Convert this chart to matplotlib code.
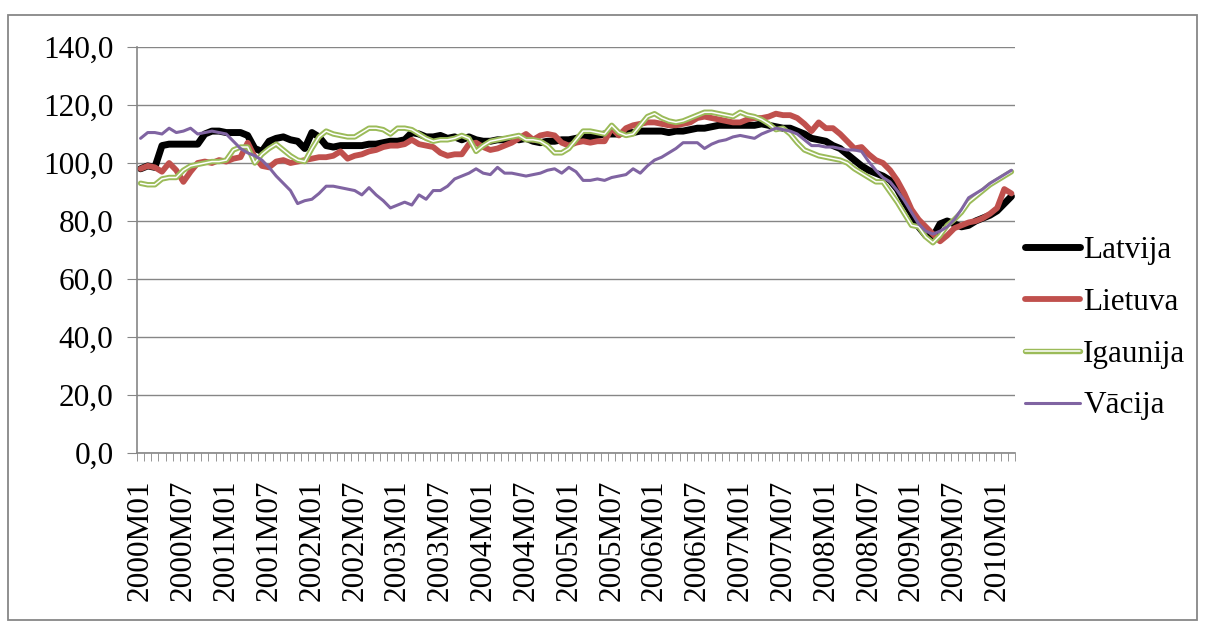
import matplotlib
matplotlib.use("Agg")
import matplotlib.pyplot as plt
import matplotlib.patheffects as pe
from matplotlib.patches import Rectangle
from matplotlib.ticker import FixedLocator, FuncFormatter

plt.rcParams['font.family'] = ['Liberation Serif', 'DejaVu Serif']

# menesi 2000M01 .. 2010M03
months = ["%dM%02d" % (2000 + k // 12, k % 12 + 1) for k in range(123)]

latvija = [98, 99, 98.5, 106, 106.5, 106.5, 106.5, 106.5, 106.5, 110,
           111, 111, 110.5, 110.5, 110.5, 109.5, 105, 104, 107.5, 108.5,
           109, 108, 107.5, 105, 110.5, 109, 106, 105.5, 106, 106,
           106, 106, 106.5, 106.5, 107, 107.5, 107.5, 108, 110.5, 110,
           109, 109, 109.5, 108.5, 109, 108, 109, 108, 107.5, 107.5,
           108, 108, 108.5, 108, 108.5, 107.5, 107, 107.5, 107.5, 108,
           108, 108.5, 109, 109, 109.5, 110, 110, 110, 110.5, 110.5,
           111, 111, 111, 111, 110.5, 111, 111, 111.5, 112, 112,
           112.5, 113, 113, 113, 113, 113, 113, 113.5, 113, 112.5,
           112, 112, 111, 110, 108.5, 108, 107.5, 106, 105, 103,
           101, 99, 97.5, 96.5, 95.5, 94, 91, 86.5, 82.5, 78,
           75, 74.5, 79, 80, 79, 78, 78.5, 80, 81, 82,
           83.5, 86, 88.5]

lietuva = [98, 99, 98.5, 97, 100, 97.5, 93.5, 97, 100, 100.5,
           100, 101, 100.5, 101.5, 102, 107, 102, 99, 98.5, 100.5,
           101, 100, 100.5, 101, 101.5, 102, 102, 102.5, 104, 101.5,
           102.5, 103, 104, 104.5, 105.5, 106, 106, 106.5, 108, 106.5,
           106, 105.5, 103.5, 102.5, 103, 103, 106.5, 107, 105.5, 104.5,
           105, 106, 107, 108.5, 110, 108, 109.5, 110, 109.5, 107,
           106, 107, 107.5, 107, 107.5, 107.5, 112, 109.5, 112, 113,
           113.5, 114, 114, 113.5, 113, 113, 113.5, 114, 115.5, 116,
           115.5, 115, 114.5, 114, 114, 115, 115.5, 115.5, 116, 117,
           116.5, 116.5, 115.5, 113.5, 111, 114, 112, 112, 110, 107.5,
           105, 105.5, 103, 101, 100, 97.5, 94, 89.5, 84, 80.5,
           78, 75.5, 73, 75, 77.5, 78.5, 79.5, 80, 81, 82.5,
           84.5, 91, 89.5]

igaunija = [93, 92.5, 92.5, 94.5, 95, 95, 97.5, 99, 99.5, 100,
            100.5, 100.5, 101, 104.5, 105.5, 105.5, 100, 103, 105, 106.5,
            104.5, 102.5, 101, 100.5, 105, 109, 111, 110, 109.5, 109,
            109, 110.5, 112, 112, 111.5, 110, 112, 112, 111.5, 110,
            108.5, 107.5, 108, 108, 108.5, 109.5, 108.5, 104, 106, 107.5,
            108, 108.5, 109, 109.5, 108, 108, 107.5, 106, 103.5, 103.5,
            105, 108, 111, 111, 110.5, 110, 113, 110.5, 109.5, 110,
            113, 116, 117, 115.5, 114.5, 114, 114.5, 115.5, 116.5, 117.5,
            117.5, 117, 116.5, 116, 117.5, 116.5, 116, 115, 113.5, 111.5,
            112, 110, 107, 104.5, 103.5, 102.5, 102, 101.5, 101, 100,
            98, 96.5, 95, 93.5, 93.5, 90, 86.5, 82.5, 78.5, 78,
            74.5, 72.5, 75, 78.5, 80.5, 83, 86.5, 88.5, 90.5, 92.5,
            94, 95.5, 97]

vacija = [108.5, 110.5, 110.5, 110, 112, 110.5, 111, 112, 110, 110.5,
          111, 110.5, 110, 107.5, 105, 103.5, 102.5, 101, 98.5, 95.5,
          93, 90.5, 86, 87, 87.5, 89.5, 92, 92, 91.5, 91,
          90.5, 89, 91.5, 89, 87, 84.5, 85.5, 86.5, 85.5, 89,
          87.5, 90.5, 90.5, 92, 94.5, 95.5, 96.5, 98, 96.5, 96,
          98.5, 96.5, 96.5, 96, 95.5, 96, 96.5, 97.5, 98, 96.5,
          98.5, 97, 94, 94, 94.5, 94, 95, 95.5, 96, 98,
          96.5, 99, 101, 102, 103.5, 105, 107, 107, 107, 105,
          106.5, 107.5, 108, 109, 109.5, 109, 108.5, 110, 111, 112,
          111.5, 111, 110, 108, 106, 106, 105.5, 105.5, 105, 104.5,
          104.5, 104, 100.5, 97.5, 95, 93.5, 90.5, 87, 83, 79,
          76.5, 75.5, 76.5, 78, 80.5, 84, 88, 89.5, 91, 93,
          94.5, 96, 97.5]

W, H = 1206, 626
fig = plt.figure(figsize=(W / 100, H / 100), dpi=100)
ax = fig.add_axes([137 / W, 1 - 453 / H, (1015 - 137) / W, (453 - 47) / H])

x = list(range(len(months)))
kw = dict(solid_joinstyle='round', solid_capstyle='round')
ax.plot(x, latvija, color='black', lw=5.0, label='Latvija', **kw)
ax.plot(x, lietuva, color='#C0504D', lw=4.2, label='Lietuva', **kw)
ax.plot(x, igaunija, color='white', lw=1.1, label='Igaunija',
        path_effects=[pe.Stroke(linewidth=3.9, foreground='#9BBB59'), pe.Normal()], **kw)
ax.plot(x, vacija, color='#8064A2', lw=2.2, label='Vācija', **kw)

grey = '#868686'
fs = 22.5
ax.set_xlim(-0.5, len(months) - 0.5)
ax.set_ylim(0, 140)
ax.set_yticks(range(0, 141, 20))
ax.yaxis.set_major_formatter(FuncFormatter(lambda v, p: ('%.1f' % v).replace('.', ',')))
ax.grid(axis='y', color=grey, lw=1.0)
ax.set_axisbelow(True)

ax.set_xticks(x[::6])
ax.set_xticklabels(months[::6], rotation=90)
ax.xaxis.set_minor_locator(FixedLocator([i - 0.5 for i in range(len(months) + 1)]))
ax.tick_params(axis='x', which='major', length=0, pad=19, labelsize=fs)
ax.tick_params(axis='x', which='minor', length=6, color=grey, direction='out')
ax.tick_params(axis='y', length=7, color=grey, pad=10, labelsize=fs)

for s in ['top', 'right']:
    ax.spines[s].set_visible(False)
for s in ['left', 'bottom']:
    ax.spines[s].set_color(grey)
    ax.spines[s].set_linewidth(1.2)

fig.legend(loc='upper left', bbox_to_anchor=(1025 / W, 1 - 236 / H), frameon=False,
           fontsize=fs, handlelength=1.76, handletextpad=0.1, labelspacing=0.73,
           borderaxespad=0, borderpad=0)

# ramis ap visu diagrammu
fig.patches.append(Rectangle((8 / W, 1 - 620 / H), (1197 - 8) / W, (620 - 15) / H,
                             transform=fig.transFigure, fill=False,
                             edgecolor='#878787', lw=1.3))

fig.savefig('out.png', dpi=100)
